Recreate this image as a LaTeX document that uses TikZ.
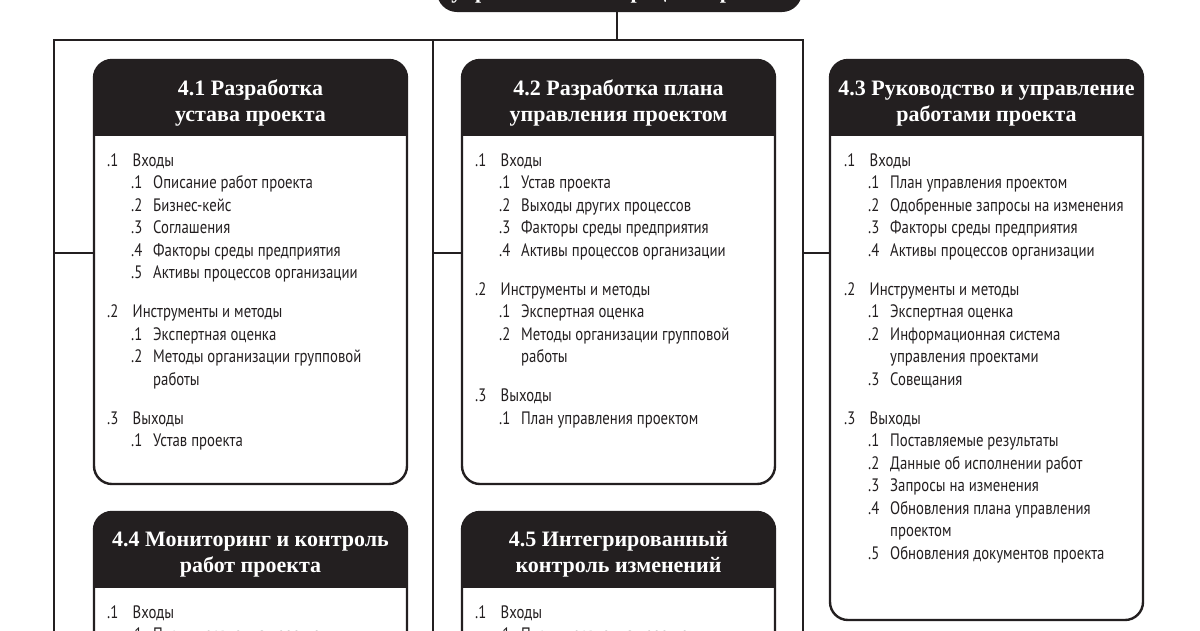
\documentclass[tikz,border=0pt]{standalone}
\usepackage{fontspec}
\usepackage{array}
\setmainfont{Liberation Serif}
\newfontfamily\bodyfont[FakeStretch=0.82]{PT Sans}
\definecolor{ink}{HTML}{231F20}
\tikzset{
  conn/.style={draw=ink, line width=2.6pt},
  frame/.style={draw=ink, line width=2.4pt, rounded corners=18pt, inner sep=0pt},
  hdrfill/.style={fill=ink, rounded corners=18pt},
  ttl/.style={text=white, font=\bfseries\fontsize{22}{26}\selectfont, inner sep=0pt, anchor=base},
  body/.style={text=ink, font=\bodyfont\fontsize{18}{22.5}\selectfont, inner sep=0pt, anchor=base west},
}
\newcommand\Hd[1]{\begin{tabular}[t]{@{}c@{}}#1\end{tabular}}
\newenvironment{blist}{\begin{tabular}[t]{@{}w{l}{24pt}@{}w{l}{22pt}@{}l@{}}}{\end{tabular}}
\newcommand\RowT[2]{#1 & \multicolumn{2}{@{}l@{}}{\hspace*{1.5pt}#2}\\}
\newcommand\RowS[2]{& #1 & #2\\}
\newcommand\RowC[1]{& & #1\\}
\newcommand\RowGap{\noalign{\vskip16.5pt}}
\begin{document}
\begin{tikzpicture}[x=1pt,y=-1pt]
\useasboundingbox (0,0) rectangle (1200,630);
\clip (0,0) rectangle (1200,630);
\fill[white] (0,0) rectangle (1200,630);

% top box
\node[fill=ink, rounded corners=20pt, minimum width=365pt, minimum height=72pt, inner sep=0pt] (tb) at (619.5,-24) {};
\node[ttl] (tbt) at (619.5,-1.5) {управления интеграцией проекта};

% bus
\coordinate (busL) at (54,40);
\coordinate (busM) at (433,40);
\coordinate (busR) at (803,40);
\coordinate (endL) at (54,650);
\coordinate (endM) at (433,650);
\coordinate (endR) at (803,650);
\coordinate (stub) at (0,253);

% ---- box 4.1
\begin{scope}\clip (84,50) rectangle (417,135); \fill[hdrfill] (94,60) rectangle (407,484);\end{scope}
\node[frame, minimum width=313pt, minimum height=424pt] (b41) at (250.5,272) {};
\node[ttl] (t41) at (250.5,95) {\Hd{4.1 Разработка\\устава проекта}};
\node[body] (l41) at (107,166) {\begin{blist}
\RowT{.1}{Входы}
\RowS{.1}{Описание работ проекта}
\RowS{.2}{Бизнес-кейс}
\RowS{.3}{Соглашения}
\RowS{.4}{Факторы среды предприятия}
\RowS{.5}{Активы процессов организации}
\RowGap
\RowT{.2}{Инструменты и методы}
\RowS{.1}{Экспертная оценка}
\RowS{.2}{Методы организации групповой}
\RowC{работы}
\RowGap
\RowT{.3}{Выходы}
\RowS{.1}{Устав проекта}
\end{blist}};

% ---- box 4.2
\begin{scope}\clip (452,50) rectangle (785,135); \fill[hdrfill] (462,60) rectangle (775,484);\end{scope}
\node[frame, minimum width=313pt, minimum height=424pt] (b42) at (618.5,272) {};
\node[ttl] (t42) at (618.5,95) {\Hd{4.2 Разработка плана\\управления проектом}};
\node[body] (l42) at (475,166) {\begin{blist}
\RowT{.1}{Входы}
\RowS{.1}{Устав проекта}
\RowS{.2}{Выходы других процессов}
\RowS{.3}{Факторы среды предприятия}
\RowS{.4}{Активы процессов организации}
\RowGap
\RowT{.2}{Инструменты и методы}
\RowS{.1}{Экспертная оценка}
\RowS{.2}{Методы организации групповой}
\RowC{работы}
\RowGap
\RowT{.3}{Выходы}
\RowS{.1}{План управления проектом}
\end{blist}};

% ---- box 4.3
\begin{scope}\clip (820,50) rectangle (1153,135); \fill[hdrfill] (830,60) rectangle (1143,620);\end{scope}
\node[frame, minimum width=313pt, minimum height=560pt] (b43) at (986.5,340) {};
\node[ttl] (t43) at (986.5,95) {\Hd{4.3 Руководство и управление\\работами проекта}};
\node[body] (l43) at (844,166) {\begin{blist}
\RowT{.1}{Входы}
\RowS{.1}{План управления проектом}
\RowS{.2}{Одобренные запросы на изменения}
\RowS{.3}{Факторы среды предприятия}
\RowS{.4}{Активы процессов организации}
\RowGap
\RowT{.2}{Инструменты и методы}
\RowS{.1}{Экспертная оценка}
\RowS{.2}{Информационная система}
\RowC{управления проектами}
\RowS{.3}{Совещания}
\RowGap
\RowT{.3}{Выходы}
\RowS{.1}{Поставляемые результаты}
\RowS{.2}{Данные об исполнении работ}
\RowS{.3}{Запросы на изменения}
\RowS{.4}{Обновления плана управления}
\RowC{проектом}
\RowS{.5}{Обновления документов проекта}
\end{blist}};

% ---- box 4.4
\begin{scope}\clip (84,502) rectangle (417,587); \fill[hdrfill] (94,512) rectangle (407,800);\end{scope}
\node[frame, minimum width=313pt, minimum height=288pt] (b44) at (250.5,656) {};
\node[ttl] (t44) at (250.5,546) {\Hd{4.4 Мониторинг и контроль\\работ проекта}};
\node[body] (l44) at (107,618) {\begin{blist}
\RowT{.1}{Входы}
\RowS{.1}{План управления проектом}
\end{blist}};

% ---- box 4.5
\begin{scope}\clip (452,502) rectangle (785,587); \fill[hdrfill] (462,512) rectangle (775,800);\end{scope}
\node[frame, minimum width=313pt, minimum height=288pt] (b45) at (618.5,656) {};
\node[ttl] (t45) at (618.5,546) {\Hd{4.5 Интегрированный\\контроль изменений}};
\node[body] (l45) at (475,618) {\begin{blist}
\RowT{.1}{Входы}
\RowS{.1}{План управления проектом}
\end{blist}};

% connectors
\draw[conn] ([xshift=-2.5pt]tb.south) -- ([xshift=-2.5pt]tb.south |- busM);
\draw[conn] (endL) -- (busL) -- (busR) -- (endR);
\draw[conn] (busM) -- (endM);
\draw[conn] (endL |- stub) -- (b41.west |- stub);
\draw[conn] (endM |- stub) -- (b42.west |- stub);
\draw[conn] (endR |- stub) -- (b43.west |- stub);
\end{tikzpicture}
\end{document}
